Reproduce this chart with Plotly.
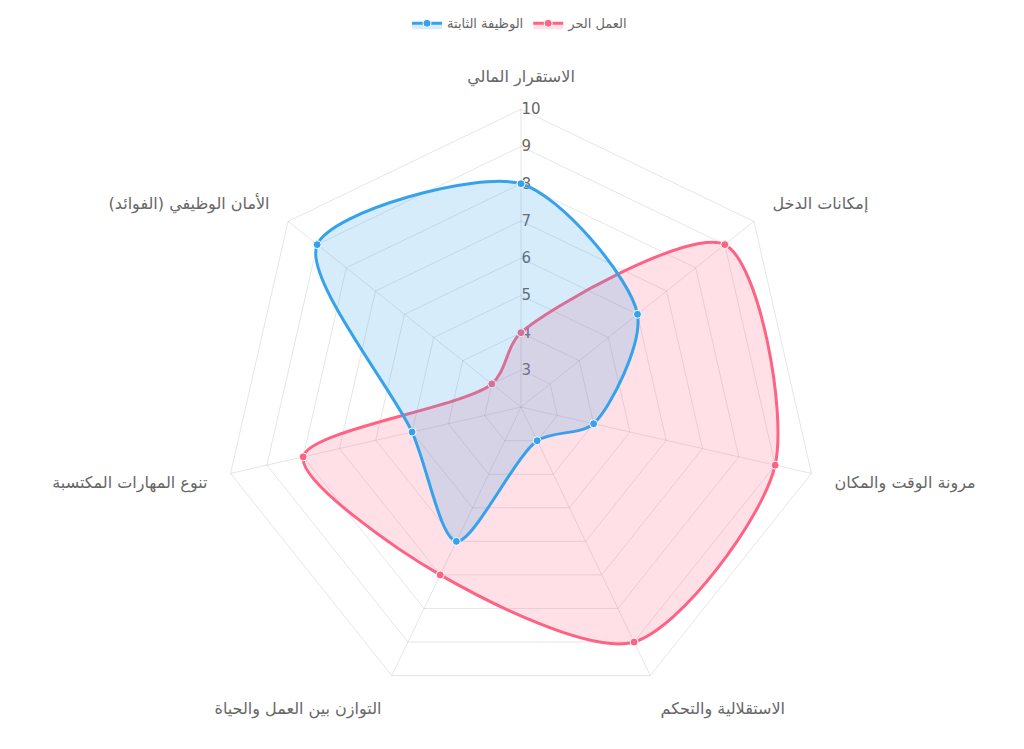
import plotly.graph_objects as go

# محاور المقارنة
categories = ['الاستقرار المالي', 'إمكانات الدخل', 'مرونة الوقت والمكان',
              'الاستقلالية والتحكم', 'التوازن بين العمل والحياة',
              'تنوع المهارات المكتسبة', 'الأمان الوظيفي (الفوائد)']

fixed_job = [8, 6, 4, 3, 6, 5, 9]
freelance = [4, 9, 9, 9, 7, 8, 3]

radial_ticks = [3, 4, 5, 6, 7, 8, 9, 10]

BLUE = 'rgb(54, 162, 235)'
PINK = 'rgb(255, 99, 132)'
FONT = 'DejaVu Sans, Arial, sans-serif'


def closed(vals):
    return vals + vals[:1]


fig = go.Figure()

fig.add_trace(go.Scatterpolar(
    r=closed(freelance), theta=closed(categories), name='العمل الحر',
    mode='lines+markers', fill='toself', fillcolor='rgba(255, 99, 132, 0.2)',
    line=dict(color=PINK, width=3, shape='spline', smoothing=0.8),
    marker=dict(size=8, color=PINK, line=dict(color='white', width=1)),
))

fig.add_trace(go.Scatterpolar(
    r=closed(fixed_job), theta=closed(categories), name='الوظيفة الثابتة',
    mode='lines+markers', fill='toself', fillcolor='rgba(54, 162, 235, 0.2)',
    line=dict(color=BLUE, width=3, shape='spline', smoothing=0.8),
    marker=dict(size=8, color=BLUE, line=dict(color='white', width=1)),
))

grid = 'rgba(0, 0, 0, 0.1)'

fig.update_layout(
    width=1024, height=749,
    margin=dict(l=0, r=0, t=0, b=0),
    paper_bgcolor='white',
    font=dict(family=FONT, size=14, color='#666'),
    showlegend=True,
    legend=dict(orientation='h', x=0.5, xanchor='center', y=1.02, yanchor='top',
                traceorder='reversed', font=dict(size=13, color='#666')),
    polar=dict(
        domain=dict(x=[209 / 1024, 817 / 1024], y=[53 / 749, 661 / 749]),
        gridshape='linear',
        bgcolor='white',
        radialaxis=dict(range=[2, 10], tickvals=radial_ticks, angle=90,
                        tickangle=90, showline=False, gridcolor=grid,
                        layer='below traces', ticks='',
                        tickfont=dict(size=15, color='#666')),
        angularaxis=dict(direction='clockwise', rotation=90, gridcolor=grid,
                         linecolor=grid, showline=True, ticks='outside',
                         ticklen=20, tickcolor='rgba(0,0,0,0)',
                         layer='below traces',
                         tickfont=dict(size=16, color='#666')),
    ),
)

fig.write_html("out.html")
